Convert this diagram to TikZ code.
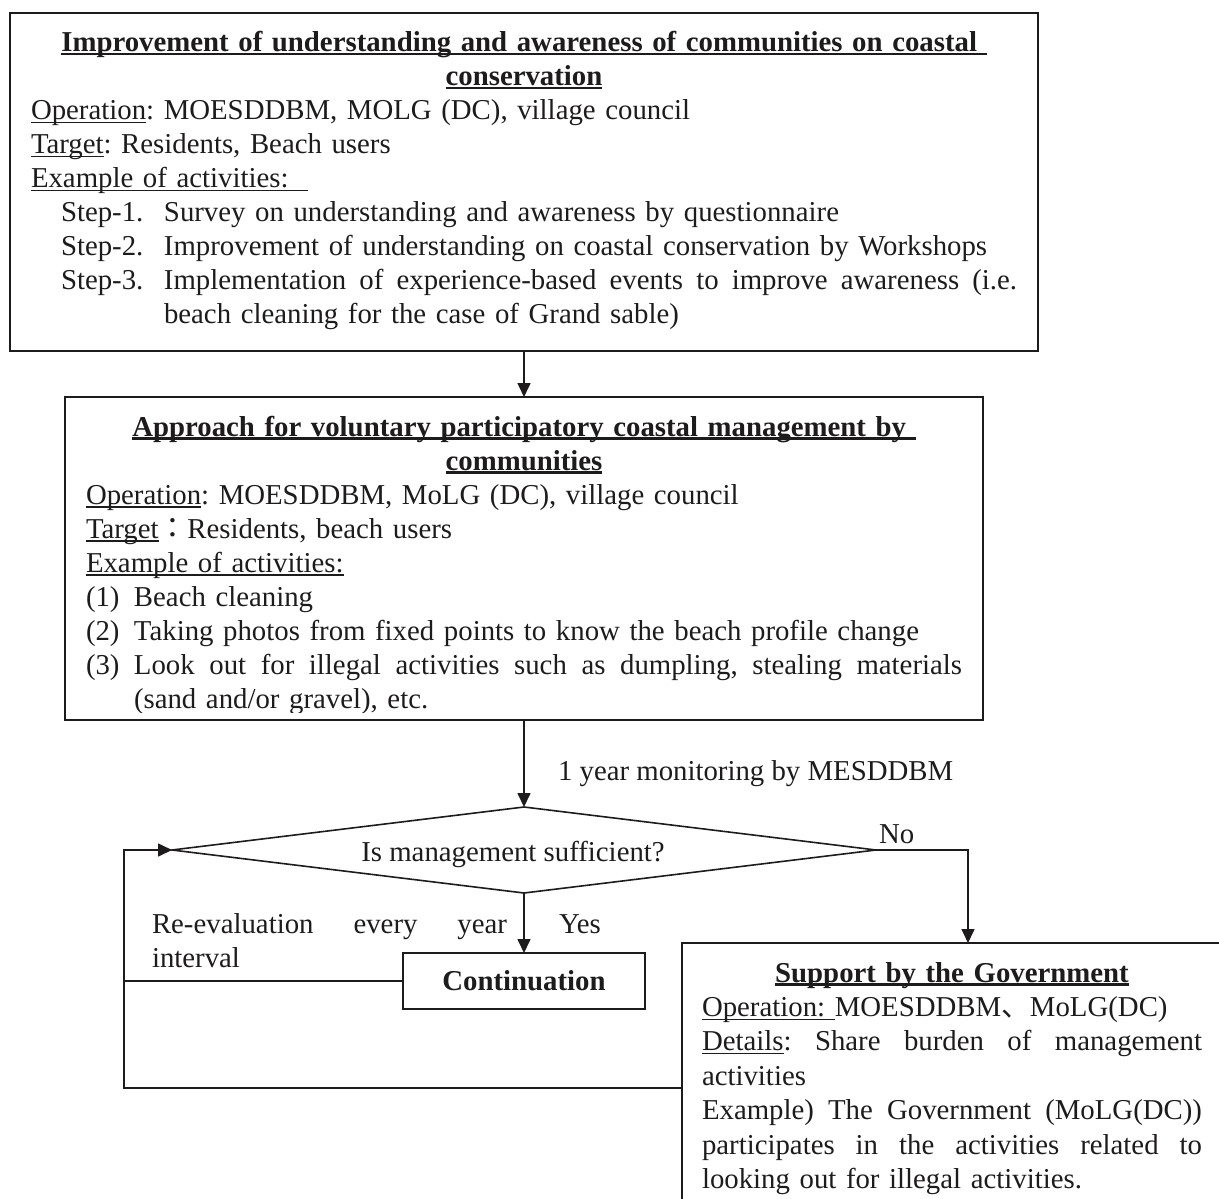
\documentclass[tikz,border=0pt]{standalone}
\usepackage{fontspec}
\setmainfont{Liberation Serif}
\newfontfamily\cjk{Noto Sans CJK JP}
\usetikzlibrary{arrows.meta,shapes.geometric,calc}
\definecolor{ink}{RGB}{30,27,28}
\frenchspacing
\newcommand{\bodyfont}{\fontsize{28.8}{34}\selectfont}
\newcommand{\supfont}{\fontsize{28.8}{34.4}\selectfont}
% underline drawn at a fixed depth below the baseline
\newsavebox{\undlbox}
\newcommand{\undl}[2][1.4pt]{\leavevmode\sbox\undlbox{#2}\rlap{\rule[-3.5pt]{\wd\undlbox}{#1}}\usebox\undlbox}
% a line set to a given width by stretching its word spaces
\newcommand{\jline}[2]{\makebox[#1][s]{\spaceskip=0.25em plus 1fil\relax #2}}

\begin{document}
\begin{tikzpicture}[x=1pt,y=-1pt,
  every node/.style={text=ink, inner sep=0pt, outer sep=0pt},
  frame/.style={draw=ink, line width=2pt, rectangle},
  body/.style={font=\bodyfont, align=left, anchor=base west},
  conn/.style={draw=ink, line width=1.6pt},
  arr/.style={conn, -{Triangle[length=14pt,width=13pt]}}]

\clip (0,0) rectangle (1219,1199);

% ---------- first box ----------
\node[frame, minimum width=1028, minimum height=338] (b1) at (524,182) {};
\node[body, text width=986] (b1text) at (31,52) {%
\makebox[\linewidth]{\bfseries\undl[2.4pt]{Improvement of understanding and awareness of communities on coastal\ }}\\
\makebox[\linewidth]{\bfseries\undl[2.4pt]{conservation}}\\
\undl{Operation}: MOESDDBM, MOLG (DC), village council\\
\undl{Target}: Residents, Beach users\\
\undl{Example of activities:\ \ }\\
\hspace*{30pt}\makebox[103pt][l]{Step-1.}Survey on understanding and awareness by questionnaire\\
\hspace*{30pt}\makebox[103pt][l]{Step-2.}Improvement of understanding on coastal conservation by Workshops\\
\hspace*{30pt}\makebox[103pt][l]{Step-3.}\jline{853pt}{Implementation of experience-based events to improve awareness (i.e.}\\
\hspace*{133pt}beach cleaning for the case of Grand sable)};

% ---------- second box ----------
\node[frame, minimum width=918, minimum height=323] (b2) at (524,558.5) {};
\begin{scope}
\clip (65,397) rectangle (983,712);
\node[body, text width=876] (b2text) at (86,436) {%
\makebox[\linewidth]{\bfseries\undl[2.4pt]{Approach for voluntary participatory coastal management by\ }}\\
\makebox[\linewidth]{\bfseries\undl[2.4pt]{communities}}\\
\undl{Operation}: MOESDDBM, MoLG (DC), village council\\
\undl{Target}{\cjk ：}Residents, beach users\\
\undl{Example of activities:}\\
\makebox[48pt][l]{(1)}Beach cleaning\\
\makebox[48pt][l]{(2)}Taking photos from fixed points to know the beach profile change\\
\makebox[48pt][l]{(3)}\jline{828pt}{Look out for illegal activities such as dumpling, stealing materials}\\
\hspace*{48pt}(sand and/or gravel), etc.};
\end{scope}

% ---------- decision ----------
\node[diamond, draw=ink, line width=1.6pt, aspect=8.19,
      minimum width=704, minimum height=86] (dec) at (524,850) {};
\node[font=\bodyfont, anchor=base] (dectext) at (513,861) {Is management sufficient?};

% ---------- outcomes ----------
\node[frame, minimum width=242, minimum height=56, font=\bodyfont\bfseries] (cont) at (524,981) {Continuation};
\node[frame, minimum width=572, minimum height=290] (sup) at (968,1088) {};
\node[body, text width=500, font=\supfont] (suptext) at (702,982) {%
\makebox[\linewidth]{\bfseries\undl[2.4pt]{Support by the Government}}\\
\undl{Operation:\ }MOESDDBM{\cjk 、}MoLG(DC)\\
\jline{\linewidth}{\undl{Details}: Share burden of management}\\
activities\\
\jline{\linewidth}{Example) The Government (MoLG(DC))}\\
\jline{\linewidth}{participates in the activities related to}\\
looking out for illegal activities.};

% ---------- labels ----------
\node[font=\bodyfont, anchor=base west] (monlabel) at (558,780) {1 year monitoring by MESDDBM};
\node[font=\bodyfont, anchor=base west] (nolabel) at (879,843) {No};
\node[font=\bodyfont, anchor=base west] (yeslabel) at (559,933) {Yes};
\node[body, text width=355] (reeval) at (152,933) {\jline{\linewidth}{Re-evaluation every year}\\interval};

% ---------- connectors ----------
\coordinate (loop) at (124,850);
\draw[arr] (b1.south) -- (b2.north);
\draw[arr] (b2.south) -- (dec.north);
\draw[arr] (dec.south) -- (cont.north);
\draw[arr] (dec.east) -| (sup.north);
\draw[arr] (sup.west) -| (loop) -- (dec.west);
\draw[conn] (cont.west) -- (cont.west -| loop);
\end{tikzpicture}
\end{document}
